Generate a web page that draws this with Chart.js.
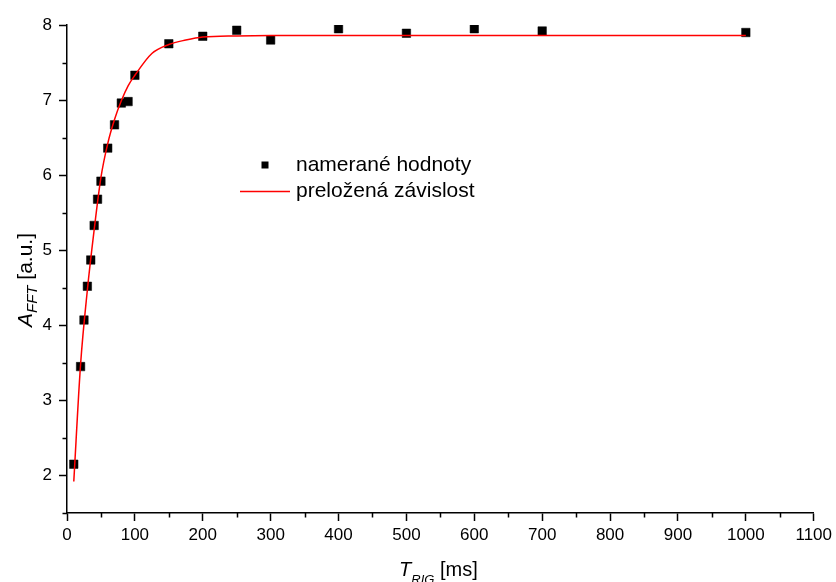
<!DOCTYPE html>
<html>
<head>
<meta charset="utf-8">
<script src="https://cdn.jsdelivr.net/npm/chart.js@4.4.1/dist/chart.umd.min.js"></script>
<style>
    html, body { margin: 0; padding: 0; background: #fff; }
    #wrap { width: 836px; height: 582px; }
</style>
</head>
<body>
<div id="wrap"><canvas id="chart" width="836" height="582"></canvas></div>
<script>
// measured points (T_RIG in ms, A_FFT in a.u.)
const timesMeasured = [10, 20, 25, 30, 35, 40, 45, 50, 60, 70, 80, 90, 100, 150, 200, 250, 300, 400, 500, 600, 700, 1000];
const amplitudeMeasured = [2.15, 3.45, 4.07, 4.52, 4.87, 5.33, 5.68, 5.92, 6.36, 6.67, 6.96, 6.98, 7.33, 7.75, 7.85, 7.93, 7.80, 7.95, 7.89, 7.95, 7.92, 7.90];

// fitted curve
const timesFit = [10, 20, 30, 40, 50, 60, 70, 80, 90, 100, 125, 150, 175, 200, 250, 300, 400, 1000];
const amplitudeFit = [1.92, 3.48, 4.47, 5.27, 5.97, 6.42, 6.74, 6.99, 7.19, 7.33, 7.62, 7.74, 7.80, 7.84, 7.855, 7.86, 7.86, 7.86];

const labelMeasured = 'namerané hodnoty';
const labelFit = 'preložená závislost';

const FONT = "'Liberation Sans', Arial, sans-serif";
Chart.defaults.font.family = FONT;
Chart.defaults.color = '#000';

const isMajorX = v => v % 100 === 0;
const isMajorY = v => Number.isInteger(v);

// short minor ticks, the library only knows one tick length
const minorTicks = {
    id: 'minorTicks',
    afterDraw(chart) {
        const { ctx, scales: { x, y } } = chart;
        ctx.save();
        ctx.strokeStyle = '#000';
        ctx.lineWidth = 1.5;
        ctx.beginPath();
        x.ticks.forEach(t => {
            if (!isMajorX(t.value)) {
                const px = Math.round(x.getPixelForValue(t.value)) + 0.5;
                ctx.moveTo(px, x.top);
                ctx.lineTo(px, x.top + 4.5);
            }
        });
        y.ticks.forEach(t => {
            if (!isMajorY(t.value)) {
                const py = Math.round(y.getPixelForValue(t.value)) + 0.5;
                ctx.moveTo(y.right, py);
                ctx.lineTo(y.right - 4.5, py);
            }
        });
        ctx.stroke();
        ctx.restore();
    },
};

function drawRich(ctx, parts, cx, baseline) {
    let total = 0;
    parts.forEach(p => {
        ctx.font = (p.italic ? 'italic ' : '') + p.size + 'px ' + FONT;
        p.w = ctx.measureText(p.text).width;
        total += p.w;
    });
    let x = cx - total / 2;
    ctx.textAlign = 'left';
    ctx.textBaseline = 'alphabetic';
    parts.forEach(p => {
        ctx.font = (p.italic ? 'italic ' : '') + p.size + 'px ' + FONT;
        ctx.fillText(p.text, x, baseline + (p.dy || 0));
        x += p.w;
    });
}

// axis titles with subscripts and the legend inside the plot
const annotations = {
    id: 'annotations',
    afterDraw(chart) {
        const { ctx, chartArea } = chart;
        ctx.save();
        ctx.fillStyle = '#000';

        const cx = (chartArea.left + chartArea.right) / 2;
        drawRich(ctx, [
            { text: 'T', size: 20, italic: true },
            { text: 'RIG', size: 13, italic: true, dy: 8 },
            { text: ' [ms]', size: 20 },
        ], cx - 2, 576);

        ctx.translate(32, 280);
        ctx.rotate(-Math.PI / 2);
        drawRich(ctx, [
            { text: 'A', size: 21, italic: true },
            { text: 'FFT', size: 15, italic: true, dy: 5 },
            { text: ' [a.u.]', size: 21 },
        ], 0, 0);
        ctx.restore();

        // legend
        ctx.save();
        const ds = chart.data.datasets;
        ctx.font = '21px ' + FONT;
        ctx.textAlign = 'left';
        ctx.textBaseline = 'middle';
        ctx.fillStyle = '#000';
        ctx.fillRect(261.5, 161.5, 7, 7);
        ctx.fillText(ds[0].label, 296, 165);
        ctx.strokeStyle = '#ff0000';
        ctx.lineWidth = 1.5;
        ctx.beginPath();
        ctx.moveTo(240, 191.5);
        ctx.lineTo(290, 191.5);
        ctx.stroke();
        ctx.fillText(ds[1].label, 296, 191);
        ctx.restore();
    },
};

new Chart(document.getElementById('chart'), {
    type: 'scatter',
    data: {
        datasets: [
            {
                label: labelMeasured,
                data: timesMeasured.map((t, i) => ({ x: t, y: amplitudeMeasured[i] })),
                pointStyle: 'rect',
                pointRadius: 6,
                backgroundColor: '#000',
                borderColor: '#000',
                borderWidth: 0.5,
                order: 1,
            },
            {
                label: labelFit,
                type: 'line',
                data: timesFit.map((t, i) => ({ x: t, y: amplitudeFit[i] })),
                borderColor: '#ff0000',
                borderWidth: 1.5,
                pointRadius: 0,
                fill: false,
                cubicInterpolationMode: 'monotone',
                order: 0,
            },
        ],
    },
    options: {
        responsive: false,
        animation: false,
        layout: { padding: { top: 25, right: 21, left: 0, bottom: 0 } },
        plugins: {
            legend: { display: false },
            tooltip: { enabled: false },
        },
        scales: {
            x: {
                type: 'linear',
                min: 0,
                max: 1100,
                border: { display: true, color: '#000', width: 1.5 },
                grid: {
                    drawOnChartArea: false,
                    tickLength: 8,
                    tickWidth: 1.5,
                    tickColor: c => (c.tick && isMajorX(c.tick.value) ? '#000' : 'rgba(0,0,0,0)'),
                },
                ticks: {
                    stepSize: 50,
                    autoSkip: false,
                    maxRotation: 0,
                    padding: 4,
                    font: { size: 17 },
                    callback: v => (isMajorX(v) ? v : ''),
                },
                afterFit: s => { s.height = 69; },
            },
            y: {
                type: 'linear',
                min: 1.5,
                max: 8,
                border: { display: true, color: '#000', width: 1.5 },
                grid: {
                    drawOnChartArea: false,
                    tickLength: 8,
                    tickWidth: 1.5,
                    tickColor: c => (c.tick && isMajorY(c.tick.value) ? '#000' : 'rgba(0,0,0,0)'),
                },
                ticks: {
                    stepSize: 0.5,
                    autoSkip: false,
                    padding: 7,
                    font: { size: 17 },
                    callback: v => (isMajorY(v) ? v : ''),
                },
                afterFit: s => { s.width = 67; },
            },
        },
    },
    plugins: [minorTicks, annotations],
});
</script>
</body>
</html>
